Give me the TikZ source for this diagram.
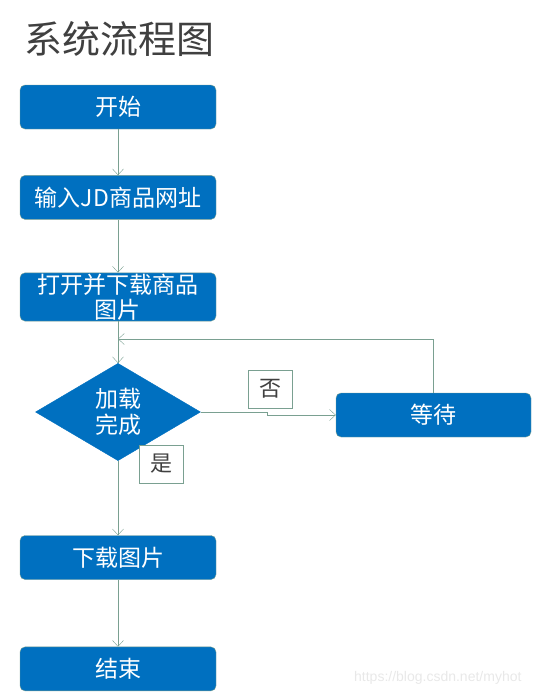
\documentclass[tikz,border=0pt]{standalone}
\usepackage{fontspec}
\setmainfont{Noto Sans CJK SC}
\newfontfamily\wmfont{Liberation Sans}
\usetikzlibrary{shapes.geometric,positioning,arrows.meta}
\definecolor{boxblue}{RGB}{0,112,192}
\definecolor{linegreen}{RGB}{122,160,145}
\definecolor{titlegray}{RGB}{64,64,64}

\begin{document}
\begin{tikzpicture}[
x=1pt, y=-1pt,
>={Straight Barb[length=6pt,width=11pt]},
stepbox/.style={rectangle, rounded corners=5pt, draw=linegreen, fill=boxblue, text=white, minimum width=196pt, minimum height=44pt, inner sep=1pt, font=\fontsize{23}{25}\selectfont, align=center},
decision/.style={diamond, draw=boxblue, fill=boxblue, text=white, minimum width=165pt, minimum height=97pt, inner sep=1pt, font=\fontsize{23}{26}\selectfont, align=center},
answer/.style={rectangle, draw=linegreen, fill=white, text=titlegray, minimum width=44pt, minimum height=38pt, inner sep=0pt, font=\fontsize{22}{24}\selectfont},
flow/.style={draw=linegreen, ->},
]
\useasboundingbox (0,0) rectangle (533,694);

%Nodes
\node[anchor=west, text=titlegray, font=\fontsize{38}{40}\selectfont] (title) at (21,39) {系统流程图};
\node[stepbox]        (start)    at (118,107) {开始};
\node[stepbox]        (input)    [below=46pt of start] {输入JD商品网址};
\node[stepbox]        (open)     [below=53pt of input] {打开并下载商品\\图片};
\node[decision]       (check)    at (118,412) {加载\\完成};
\node[stepbox, minimum width=195pt] (wait) at (433.5,415) {等待};
\node[stepbox]        (download) at (118,557.5) {下载图片};
\node[stepbox]        (finish)   [below=67pt of download] {结束};

\node[answer]         (no)       at (270,389) {否};
\node[answer]         (yes)      at (161,464) {是};

\node[anchor=south east, text=black!9, font=\wmfont\fontsize{14}{16}\selectfont] (mark) at (525,688) {https://blog.csdn.net/myhot};

\coordinate (merge) at (118,339);

%Lines
\draw[flow] (start) -- (input);
\draw[flow] (input) -- (open);
\draw[flow] (open) -- (check);
\draw[flow] (check.east) -- ++(66,0) |- (wait.west);
\draw[flow] (wait.north) |- (merge);
\draw[flow] (check) -- (download);
\draw[flow] (download) -- (finish);

\end{tikzpicture}
\end{document}
